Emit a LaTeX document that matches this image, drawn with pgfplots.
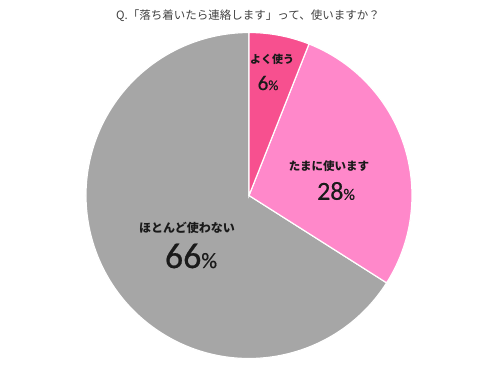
\documentclass[border=0pt]{standalone}
\usepackage{pgfplots}
\pgfplotsset{compat=1.18}
\usepackage{pgfplotstable}
\usepackage{fontspec}
\newfontfamily\jp{Noto Sans CJK JP}
\newfontfamily\num[FakeBold=0.6]{Carlito}
\definecolor{cA}{HTML}{F7508F}
\definecolor{cB}{HTML}{FF88CA}
\definecolor{cC}{HTML}{A6A6A6}
\definecolor{tx}{HTML}{1A1A1A}
\pgfplotstableread{
pct
6
28
66
}\piedata
\begin{document}
\begin{tikzpicture}
\pgfplotstablegetelem{0}{pct}\of\piedata \let\va\pgfplotsretval
\pgfplotstablegetelem{1}{pct}\of\piedata \let\vb\pgfplotsretval
\pgfplotstablegetelem{2}{pct}\of\piedata \let\vc\pgfplotsretval
\pgfmathsetmacro\aA{90-3.6*\va}
\pgfmathsetmacro\aB{\aA-3.6*\vb}
\pgfmathsetmacro\aC{\aB-3.6*\vc}
\begin{axis}[
  hide axis, scale only axis, width=500pt, height=366pt,
  xmin=0, xmax=500, ymin=0, ymax=366, clip=false]
\path (axis cs:0,0) rectangle (axis cs:500,366);
\fill[cC, draw=white, line width=1.2pt] (axis cs:249,170.5) -- ++(\aB:163pt) arc[start angle=\aB, end angle=\aC, radius=163pt] -- cycle;
\fill[cB, draw=white, line width=1.2pt] (axis cs:249,170.5) -- ++(\aA:163pt) arc[start angle=\aA, end angle=\aB, radius=163pt] -- cycle;
\fill[cA, draw=white, line width=1.2pt] (axis cs:249,170.5) -- ++(90:163pt) arc[start angle=90, end angle=\aA, radius=163pt] -- cycle;
\node[text=black!75, font=\jp\fontsize{11.5}{12}\selectfont] at (axis cs:248,350) {Q.「落ち着いたら連絡します」って、使いますか？};
\node[text=tx, font=\jp\bfseries\fontsize{11}{12}\selectfont] at (axis cs:272,307) {よく使う};
\node[text=tx, font=\num\fontsize{21}{22}\selectfont] at (axis cs:268,283) {\va{\fontsize{14}{14}\selectfont\%}};
\node[text=tx, font=\jp\bfseries\fontsize{11.5}{12}\selectfont] at (axis cs:329,200) {たまに使います};
\node[text=tx, font=\num\fontsize{26}{27}\selectfont] at (axis cs:336,175) {\vb{\fontsize{16}{16}\selectfont\%}};
\node[text=tx, font=\jp\bfseries\fontsize{12}{13}\selectfont] at (axis cs:187,138) {ほとんど使わない};
\node[text=tx, font=\num\fontsize{36}{37}\selectfont] at (axis cs:191,110) {\vc{\fontsize{22}{22}\selectfont\%}};
\end{axis}
\end{tikzpicture}
\end{document}
